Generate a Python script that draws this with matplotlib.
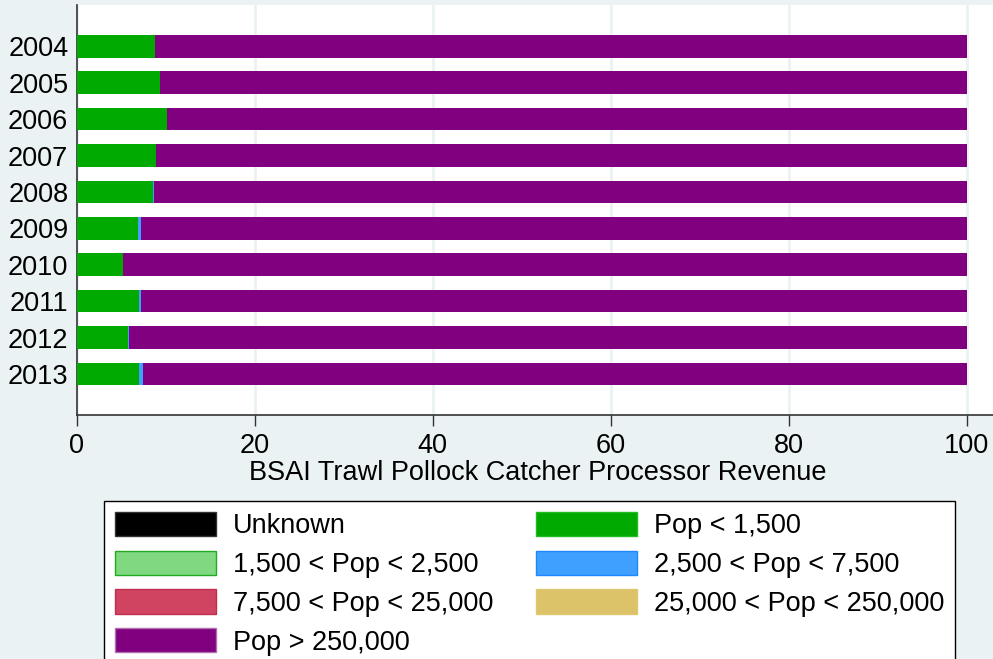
import numpy as np
import matplotlib
matplotlib.use("Agg")
import matplotlib.pyplot as plt

plt.rcParams['font.family'] = ['Liberation Sans', 'DejaVu Sans']

# dados
anos = ["2004", "2005", "2006", "2007", "2008", "2009", "2010", "2011", "2012", "2013"]
desconhecido = [0, 0, 0, 0, 0, 0, 0, 0, 0, 0]
pop_1500 = [8.8, 9.4, 10.1, 8.9, 8.55, 6.9, 5.15, 7.05, 5.75, 6.95]
pop_1500_2500 = [0, 0, 0, 0, 0, 0, 0, 0, 0, 0]
pop_2500_7500 = [0, 0, 0, 0, 0.15, 0.3, 0.1, 0.15, 0.1, 0.45]
pop_7500_25000 = [0, 0, 0, 0, 0, 0, 0, 0, 0, 0]
pop_25000_250000 = [0, 0, 0, 0, 0, 0, 0, 0, 0, 0]
pop_250000 = [100 - a - b for a, b in zip(pop_1500, pop_2500_7500)]

series = [
    ("Unknown", desconhecido, "#000000", "#333333"),
    ("Pop < 1,500", pop_1500, "#00AA00", "#22BB22"),
    ("1,500 < Pop < 2,500", pop_1500_2500, "#80D880", "#22AA22"),
    ("2,500 < Pop < 7,500", pop_2500_7500, "#40A0FF", "#1E88FF"),
    ("7,500 < Pop < 25,000", pop_7500_25000, "#D04462", "#C0304E"),
    ("25,000 < Pop < 250,000", pop_25000_250000, "#DCC268", "#E0C870"),
    ("Pop > 250,000", pop_250000, "#800080", "#B070B0"),
]

fundo = "#EAF2F3"
fs = 19.5
fig = plt.figure(figsize=(9.93, 6.59), dpi=100, facecolor=fundo)
ax = fig.add_axes([76.7 / 993, 1 - 414.7 / 659, (999 - 76.7) / 993, 409.7 / 659])
ax.set_facecolor("white")

y = np.arange(len(anos))
esquerda = np.zeros(len(anos))
handles = {}
for nome, valores, cor, borda in series:
    v = np.array(valores, dtype=float)
    ax.barh(y, v, left=esquerda, height=0.62, color=cor, linewidth=0, zorder=3)
    esquerda += v
    handles[nome] = plt.Rectangle((0, 0), 1, 1, facecolor=cor, edgecolor=borda, linewidth=1)

ax.set_xlim(0, 103.6)
ax.set_ylim(10.12, -1.135)
ax.set_yticks(y)
ax.set_yticklabels(anos)
ax.set_xticks([0, 20, 40, 60, 80, 100])
ax.tick_params(axis="y", length=0, pad=6, labelsize=fs)
ax.tick_params(axis="x", length=8, width=1, color="#333333", pad=5, labelsize=fs)
ax.grid(axis="x", color=fundo, linewidth=2, zorder=0)
ax.set_axisbelow(True)
for lado in ["top", "right"]:
    ax.spines[lado].set_visible(False)
for lado in ["left", "bottom"]:
    ax.spines[lado].set_color("#333333")
    ax.spines[lado].set_linewidth(1.2)

ax.set_xlabel("BSAI Trawl Pollock Catcher Processor Revenue", fontsize=fs, labelpad=1)

# legenda em linhas (ordem por colunas)
ordem = ["Unknown", "1,500 < Pop < 2,500", "7,500 < Pop < 25,000", "Pop > 250,000",
         "Pop < 1,500", "2,500 < Pop < 7,500", "25,000 < Pop < 250,000"]
leg = fig.legend([handles[n] for n in ordem], ordem, ncol=2, loc="upper left",
                 bbox_to_anchor=(104 / 993, 1 - 501 / 659), fontsize=fs,
                 handlelength=3.73, handleheight=1.0, handletextpad=0.63,
                 columnspacing=1.58, borderpad=0.4, labelspacing=0.42,
                 fancybox=False, framealpha=1, borderaxespad=0)
leg.get_frame().set_edgecolor("black")
leg.get_frame().set_linewidth(1)

fig.savefig("out.png", dpi=100, facecolor=fundo)
